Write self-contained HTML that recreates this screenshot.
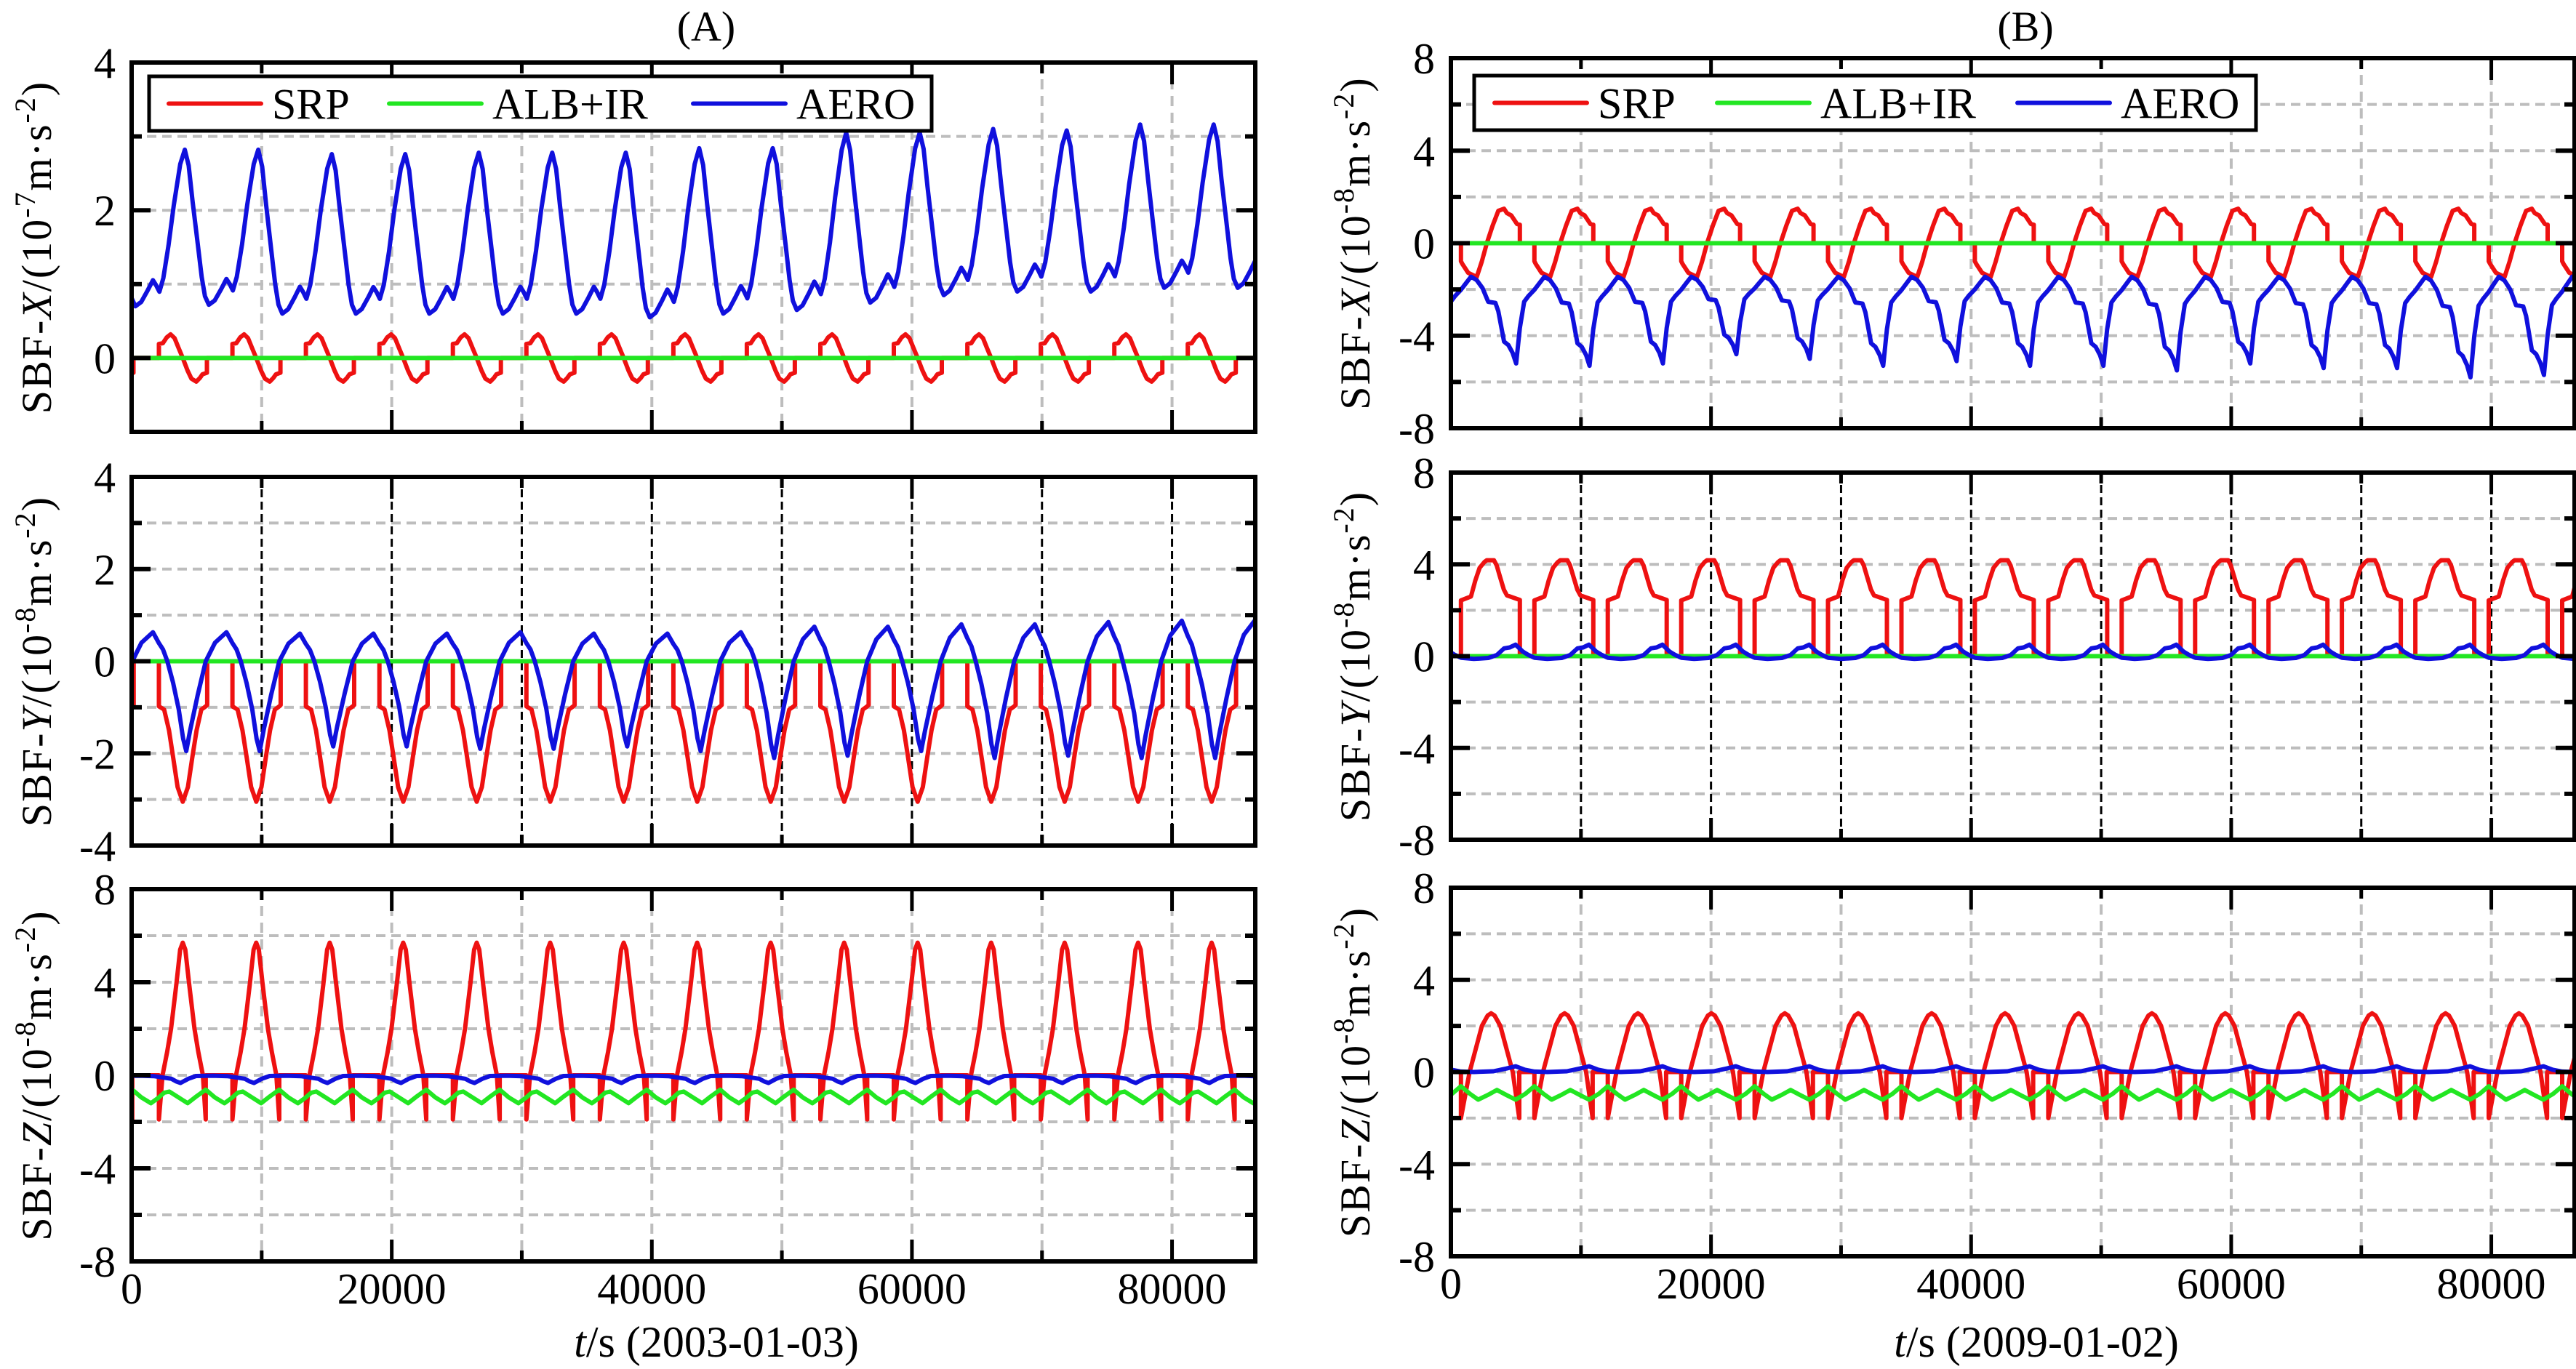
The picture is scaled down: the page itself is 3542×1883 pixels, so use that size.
<!DOCTYPE html>
<html><head><meta charset="utf-8"><style>
html,body{margin:0;padding:0;background:#fff;}
svg{display:block;}
text{font-family:"Liberation Serif",serif;fill:#000;}
</style></head><body>
<svg id="chart" xmlns="http://www.w3.org/2000/svg" width="3542" height="1883" viewBox="0 0 3542 1883">
<rect x="0" y="0" width="3542" height="1883" fill="#fff"/>
</svg>
<script>
// ---------- data ----------
const xTicks = [0, 20000, 40000, 60000, 80000];
const xMinorTicks = [10000, 30000, 50000, 70000];
const xMax = 86400;
const periodA = 5651, periodB = 5645;
const onStartA = 2099, onStartB = 773;
const aeroPeakA1 = 4087, aeroMinA2 = 4197, aeroDipA3 = 3755, aeroPeakB1 = 1546;

// A1 (x 1e-7)
const a1SrpDt  = [0,0,300,600,900,1200,1500,1830,2200,2500,2870,3150,3350,3690,3690];
const a1SrpVal = [0,0.19,0.2,0.28,0.32,0.27,0.14,0,-0.17,-0.28,-0.32,-0.27,-0.22,-0.2,0];
const a1AeroDt  = [0,300,600,1000,1300,1550,1850,2300,2800,3200,3450,3700,4000,4400,4800,5300,5651];
const a1AeroVal = [2.82,2.6,2.1,1.5,1.05,0.78,0.66,0.72,0.88,1.02,0.95,0.86,1.05,1.5,2.05,2.62,2.82];
const a1AeroPeaks   = [2.82,2.82,2.82,2.76,2.76,2.78,2.78,2.78,2.84,2.84,3.05,3.05,3.1,3.08,3.16,3.16,3.16];
const a1AeroTroughs = [0.7,0.72,0.6,0.6,0.6,0.6,0.6,0.55,0.6,0.65,0.75,0.85,0.9,0.9,0.95,0.95,0.95];
const a1GreenDt = [0,5651];
const a1GreenVal = [0,0];
// A2 (y 1e-8)
const a2SrpDt  = [0,0,400,773,1100,1436,1833,2230,2560,2893,3260,3600,3711,3711];
const a2SrpVal = [0,-0.98,-1.05,-1.5,-2.1,-2.73,-3.05,-2.73,-2.1,-1.5,-1.05,-0.98,-0.95,0];
const a2AeroDt  = [0,300,884,1502,2209,3093,3535,3866,4197,4639,5080,5412,5651];
const a2AeroVal = [-1.95,-1.5,-0.73,0,0.42,0.66,0.42,0.27,0,-0.47,-1.05,-1.68,-1.95];
const a2AeroMax = [0.63,0.63,0.6,0.6,0.6,0.63,0.6,0.6,0.63,0.75,0.75,0.8,0.8,0.85,0.88,0.9,0.9];
const a2AeroMin = [-1.9,-1.95,-1.95,-1.85,-1.85,-1.9,-1.9,-1.85,-1.95,-2.1,-2.05,-1.95,-2.1,-2.05,-2.1,-2.1,-2.1];
const a2GreenDt = [0,5651];
const a2GreenVal = [0,0];
// A3 (z 1e-8)
const a3SrpDt  = [0,0,280,630,930,1355,1630,1830,2030,2305,2730,3030,3380,3600,3600];
const a3SrpVal = [0,-1.9,0,1,2,4,5.4,5.7,5.4,4,2,1,0,-1.9,0];
const a3GreenDt  = [0,400,795,1500,2209,2900,3600,4300,5036,5651];
const a3GreenVal = [-0.95,-0.75,-0.7,-0.95,-1.2,-0.9,-0.62,-0.95,-1.2,-0.95];
const a3AeroDt  = [0,600,1200,2500,3650,4950,5300,5651];
const a3AeroVal = [-0.33,-0.15,-0.03,-0.02,-0.04,-0.15,-0.26,-0.33];
// B1 (x 1e-8)
const b1SrpDt  = [0,0,110,552,1215,1600,1988,2430,2872,3314,3534,3866,4308,4529,4529];
const b1SrpVal = [0,-0.78,-0.9,-1.28,-1.46,-0.8,0,0.75,1.4,1.49,1.3,1.2,0.83,0.8,0];
const b1AeroDt  = [0,442,884,1325,1878,2099,2540,2872,3203,3468,3755,4087,4418,4860,5302,5645];
const b1AeroVal = [-1.45,-1.6,-1.95,-2.55,-2.6,-2.97,-4.3,-4.45,-4.8,-5.26,-3.7,-2.55,-2.3,-2.03,-1.7,-1.45];
const b1AeroMins = [-5.2,-5.2,-5.3,-5.2,-4.8,-5.0,-5.3,-5.1,-5.3,-5.3,-5.5,-5.2,-5.4,-5.4,-5.8,-5.7,-5.5];
const b1GreenDt = [0,5645];
const b1GreenVal = [0,0];
// B2 (y 1e-8)
const b2SrpDt  = [0,0,773,1105,1436,1800,1988,2540,2750,2982,3300,3534,4529,4529];
const b2SrpVal = [0,2.43,2.6,3.3,3.85,4.1,4.18,4.18,3.95,3.5,2.9,2.65,2.45,0];
const b2AeroDt  = [0,994,2099,2761,3314,3755,4197,4750,5191,5645];
const b2AeroVal = [-0.07,-0.12,-0.08,0.05,0.34,0.38,0.5,0.2,0.05,-0.07];
const b2GreenDt = [0,5645];
const b2GreenVal = [0,0];
// B3 (z 1e-8)
const b3SrpDt  = [0,0,663,1612,2050,2320,2590,3030,3980,4484,4484];
const b3SrpVal = [0,-2,0,2,2.45,2.55,2.45,2,0,-2,0];
const b3GreenDt  = [0,700,1325,2050,2760,3500,4200,4950,5645];
const b3GreenVal = [-0.62,-0.95,-1.2,-1.0,-0.78,-1.0,-1.2,-0.95,-0.62];
const b3AeroDt  = [0,1000,2500,3500,4200,4900,5645];
const b3AeroVal = [0.02,0.0,0.03,0.15,0.25,0.1,0.02];

// ---------- layout ----------
const NS = 'http://www.w3.org/2000/svg';
const svg = document.getElementById('chart');
const RED = '#ee1111', GREEN = '#22e622', BLUE = '#1010dd';
function mk(tag, attrs, parent) {
  const e = document.createElementNS(NS, tag);
  for (const k in attrs) e.setAttribute(k, attrs[k]);
  (parent || svg).appendChild(e);
  return e;
}
const panels = [
 {id:'a1', x0:181, x1:1726, y0:86, y1:594, ymax:4, ymin:-1, grid:1, lab:2, exp:'-7', axis:'X', vblack:false},
 {id:'a2', x0:181, x1:1726, y0:656, y1:1163, ymax:4, ymin:-4, grid:1, lab:2, exp:'-8', axis:'Y', vblack:true},
 {id:'a3', x0:181, x1:1726, y0:1223, y1:1735, ymax:8, ymin:-8, grid:2, lab:4, exp:'-8', axis:'Z', vblack:false},
 {id:'b1', x0:1995, x1:3540, y0:80, y1:589, ymax:8, ymin:-8, grid:2, lab:4, exp:'-8', axis:'X', vblack:false},
 {id:'b2', x0:1995, x1:3540, y0:650, y1:1155, ymax:8, ymin:-8, grid:2, lab:4, exp:'-8', axis:'Y', vblack:true},
 {id:'b3', x0:1995, x1:3540, y0:1221, y1:1728, ymax:8, ymin:-8, grid:2, lab:4, exp:'-8', axis:'Z', vblack:false}
];
function xs(p, t){ return p.x0 + (t / xMax) * (p.x1 - p.x0); }
function ys(p, v){ return p.y0 + (p.ymax - v) / (p.ymax - p.ymin) * (p.y1 - p.y0); }

function build(dtArr, valArr, t0, P, mod) {
  const pts = [];
  for (let k = -1; k <= 16; k++) {
    for (let i = 0; i < dtArr.length; i++) {
      const t = t0 + k * P + dtArr[i];
      let v = valArr[i];
      if (mod) v = mod(v, k + 1, dtArr[i] / P);
      pts.push([t, v]);
    }
  }
  return pts;
}
function lerpArr(arr, idx, f){ const a = arr[Math.max(0,Math.min(arr.length-1,idx))], b = arr[Math.max(0,Math.min(arr.length-1,idx+1))]; return a + (b - a) * f; }

const series = {
 a1: [
  ['srp', RED, build(a1SrpDt, a1SrpVal, onStartA, periodA)],
  ['alb-ir', GREEN, build(a1GreenDt, a1GreenVal, 0, periodA)],
  ['aero', BLUE, build(a1AeroDt, a1AeroVal, aeroPeakA1, periodA, (v, i, f) => {
     const pk = lerpArr(a1AeroPeaks, i, f), tr = a1AeroTroughs[Math.max(0,Math.min(16,i))];
     return tr + (v - 0.66) / (2.82 - 0.66) * (pk - tr); })]
 ],
 a2: [
  ['srp', RED, build(a2SrpDt, a2SrpVal, onStartA, periodA)],
  ['alb-ir', GREEN, build(a2GreenDt, a2GreenVal, 0, periodA)],
  ['aero', BLUE, build(a2AeroDt, a2AeroVal, aeroMinA2, periodA, (v, i, f) => {
     return v >= 0 ? v / 0.66 * a2AeroMax[Math.max(0,Math.min(16,i))] : (v / -1.95) * lerpArr(a2AeroMin, i, f); })]
 ],
 a3: [
  ['srp', RED, build(a3SrpDt, a3SrpVal, onStartA, periodA)],
  ['alb-ir', GREEN, build(a3GreenDt, a3GreenVal, onStartA, periodA)],
  ['aero', BLUE, build(a3AeroDt, a3AeroVal, aeroDipA3, periodA)]
 ],
 b1: [
  ['srp', RED, build(b1SrpDt, b1SrpVal, onStartB, periodB)],
  ['alb-ir', GREEN, build(b1GreenDt, b1GreenVal, 0, periodB)],
  ['aero', BLUE, build(b1AeroDt, b1AeroVal, aeroPeakB1, periodB, (v, i, f) => {
     const mn = b1AeroMins[Math.max(0,Math.min(16,i))];
     return v > -1.45 ? v : -1.45 + (v + 1.45) / (-5.26 + 1.45) * (mn + 1.45); })]
 ],
 b2: [
  ['srp', RED, build(b2SrpDt, b2SrpVal, onStartB, periodB)],
  ['alb-ir', GREEN, build(b2GreenDt, b2GreenVal, 0, periodB)],
  ['aero', BLUE, build(b2AeroDt, b2AeroVal, onStartB, periodB)]
 ],
 b3: [
  ['srp', RED, build(b3SrpDt, b3SrpVal, onStartB, periodB)],
  ['alb-ir', GREEN, build(b3GreenDt, b3GreenVal, onStartB, periodB)],
  ['aero', BLUE, build(b3AeroDt, b3AeroVal, onStartB, periodB)]
 ]
};

const defs = mk('defs', {});
panels.forEach(p => {
  const g = mk('g', {});
  
  
  const cp = mk('clipPath', {id: 'clip-' + p.id}, defs);
  mk('rect', {x: p.x0, y: p.y0, width: p.x1 - p.x0, height: p.y1 - p.y0}, cp);

  for (let v = p.ymin + p.grid; v < p.ymax - 1e-9; v += p.grid) {
    const l = mk('line', {x1: p.x0, x2: p.x1, y1: ys(p, v), y2: ys(p, v), stroke: '#bdbdbd', 'stroke-width': 4, 'stroke-dasharray': '13 8'}, g);
    
    
  }
  for (let t = 10000; t < xMax; t += 10000) {
    const l = mk('line', {x1: xs(p, t), x2: xs(p, t), y1: p.y0, y2: p.y1,
      stroke: p.vblack ? '#000' : '#bdbdbd', 'stroke-width': p.vblack ? 3 : 4, 'stroke-dasharray': p.vblack ? '11 6' : '14 9'}, g);
    
    
  }
  const sg = mk('g', {'clip-path': 'url(#clip-' + p.id + ')'}, g);
  series[p.id].forEach(([nm, col, pts]) => {
    const d = pts.map(q => xs(p, q[0]).toFixed(1) + ',' + ys(p, q[1]).toFixed(1)).join(' ');
    const pl = mk('polyline', {points: d, fill: 'none', stroke: col, 'stroke-width': 6, 'stroke-linejoin': 'round'}, sg);
    
    
  });
  const fr = mk('rect', {x: p.x0, y: p.y0, width: p.x1 - p.x0, height: p.y1 - p.y0, fill: 'none', stroke: '#000', 'stroke-width': 6}, g);
  
  
  for (let v = p.ymin; v <= p.ymax + 1e-9; v += (p.id === 'a1' ? 1 : p.grid)) {
    const major = Math.abs(Math.round(v) % p.lab) === 0;
    const y = ys(p, v);
    mk('line', {x1: p.x0, x2: p.x0 + (major ? 26 : 14), y1: y, y2: y, stroke: '#000', 'stroke-width': 6}, g);
    mk('line', {x1: p.x1, x2: p.x1 - (major ? 26 : 14), y1: y, y2: y, stroke: '#000', 'stroke-width': 6}, g);
    if (major) {
      const tx = mk('text', {x: p.x0 - 22, y: y + 21, 'font-size': 60, 'text-anchor': 'end'}, g);
      tx.textContent = String(Math.round(v));
      
      
    }
  }
  xTicks.concat(xMinorTicks).forEach(t => {
    const major = xTicks.includes(t);
    const x = xs(p, t), L = major ? 30 : 15;
    mk('line', {x1: x, x2: x, y1: p.y1, y2: p.y1 - L, stroke: '#000', 'stroke-width': 5}, g);
    mk('line', {x1: x, x2: x, y1: p.y0, y2: p.y0 + L, stroke: '#000', 'stroke-width': 5}, g);
  });
  if (p.id === 'a3' || p.id === 'b3') {
    xTicks.forEach(t => {
      const tx = mk('text', {x: xs(p, t), y: p.y1 + 58, 'font-size': 60, 'text-anchor': 'middle'}, g);
      tx.textContent = String(t);
      
      
    });
  }
  const cx = p.x0 < 1000 ? 50 : 1863;
  const cy = (p.y0 + p.y1) / 2;
  const tt = mk('text', {x: cx, y: cy, 'font-size': 58, 'text-anchor': 'middle', transform: 'rotate(-90 ' + cx + ' ' + cy + ')', dy: 20, 'letter-spacing': 2}, g);
  tt.innerHTML = 'SBF-<tspan font-style="italic">' + p.axis + '</tspan>/(10<tspan font-size="40" dy="-22">' + p.exp + '</tspan><tspan dy="22">m·s</tspan><tspan font-size="40" dy="-22">-2</tspan><tspan dy="22">)</tspan>';
  
  
});

[['(A)', 971, 'panel-title-a'], ['(B)', 2785, 'panel-title-b']].forEach(([s, x, n]) => {
  const t = mk('text', {x: x, y: 56, 'font-size': 58, 'text-anchor': 'middle'});
  t.textContent = s;
  
  
});
[['(2003-01-03)', 985, 'x-axis-title-a'], ['(2009-01-02)', 2800, 'x-axis-title-b']].forEach(([s, x, n]) => {
  const t = mk('text', {x: x, y: 1866, 'font-size': 60, 'text-anchor': 'middle'});
  t.innerHTML = '<tspan font-style="italic">t</tspan>/s ' + s;
  
  
});

const legendNames = ['SRP', 'ALB+IR', 'AERO'];
const legendColors = [RED, GREEN, BLUE];
[{x0: 205, x1: 1281, y0: 105, y1: 180, lines: [232, 535, 953]},
 {x0: 2027, x1: 3102, y0: 104, y1: 179, lines: [2055, 2361, 2774]}].forEach((L, li) => {
  const g = mk('g', {});
  
  
  mk('rect', {x: L.x0, y: L.y0, width: L.x1 - L.x0, height: L.y1 - L.y0, fill: '#fff', stroke: '#000', 'stroke-width': 5}, g);
  legendNames.forEach((nm, i) => {
    const ym = (L.y0 + L.y1) / 2;
    const e = mk('g', {}, g);
    
    
    mk('line', {x1: L.lines[i], x2: L.lines[i] + 127, y1: ym, y2: ym, stroke: legendColors[i], 'stroke-width': 6, 'stroke-linecap': 'round'}, e);
    const t = mk('text', {x: L.lines[i] + 142, y: ym + 21, 'font-size': 60}, e);
    t.textContent = nm;
  });
});
</script>
</body></html>
